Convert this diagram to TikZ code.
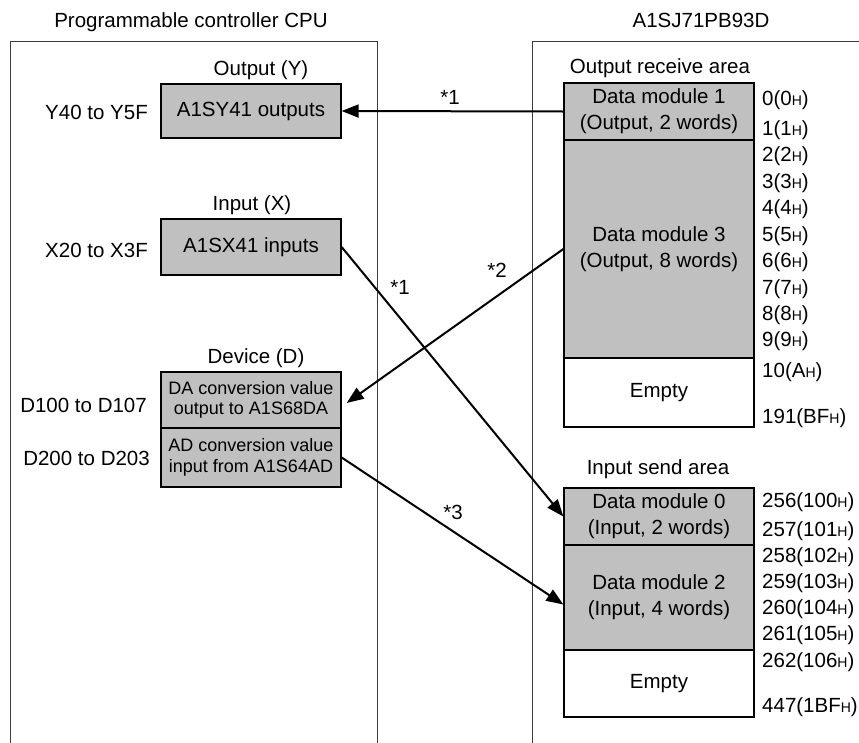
\documentclass[tikz,border=0pt]{standalone}
\usepackage{fontspec}
\setmainfont{Liberation Sans}
\usetikzlibrary{arrows.meta,calc}
\definecolor{boxgray}{RGB}{192,192,192}
\definecolor{framegray}{RGB}{60,60,60}
\newcommand\hsub{{\fontsize{14}{14}\selectfont H}}
\begin{document}
\begin{tikzpicture}[x=1pt,y=-1pt,
  lbl/.style={inner sep=0pt, font=\fontsize{20.5}{26}\selectfont},
  gbox/.style={draw=black, line width=1.3pt, fill=boxgray, inner sep=0pt, align=center,
    minimum width=180pt, font=\fontsize{20.5}{26}\selectfont},
  mbox/.style={gbox, minimum width=190pt},
  ebox/.style={mbox, fill=white},
  smalltext/.style={font=\fontsize{18}{20.5}\selectfont},
  frame/.style={draw=framegray, line width=1pt},
  arr/.style={line width=2pt, -{Triangle[length=17pt,width=13pt]}},
  addr/.style={lbl, anchor=west}]
\useasboundingbox (0,0) rectangle (859,742);
% frames
\draw[frame] (10,745) -- (10,41) -- (377,41) -- (377,745);
\draw[frame] (532,745) -- (532,41) -- (862,41);
% titles
\node[lbl] (tcpu) at (191,22) {Programmable controller CPU};
\node[lbl] (tmod) at (701,20) {A1SJ71PB93D};
% left side
\node[lbl] (louty) at (261,70) {Output (Y)};
\node[gbox, minimum height=54pt] (ysy) at (251,111) {A1SY41 outputs};
\node[lbl, anchor=east] (ry) at (148,112) {Y40 to Y5F};
\node[lbl] (linx) at (252,205) {Input (X)};
\node[gbox, minimum height=56pt] (ysx) at (251,247) {A1SX41 inputs};
\node[lbl, anchor=east] (rx) at (148,250) {X20 to X3F};
\node[lbl] (ldev) at (256,358) {Device (D)};
\node[gbox, smalltext, minimum height=56pt] (da) at (251,400) {DA conversion value\\output to A1S68DA};
\node[gbox, smalltext, minimum height=59pt] (ad) at (251,457.5) {AD conversion value\\input from A1S64AD};
\node[lbl, anchor=east] (rd1) at (147,405) {D100 to D107};
\node[lbl, anchor=east] (rd2) at (150,458) {D200 to D203};
% right side
\node[lbl] (lora) at (660,68) {Output receive area};
\node[mbox, minimum height=57pt] (dm1) at (659,111.5) {Data module 1\\(Output, 2 words)};
\node[mbox, minimum height=218pt] (dm3) at (659,249) {Data module 3\\(Output, 8 words)};
\node[ebox, minimum height=69pt] (emp1) at (659,392.5) {Empty};
\node[lbl] (lisa) at (658,469) {Input send area};
\node[mbox, minimum height=57pt] (dm0) at (659,516.5) {Data module 0\\(Input, 2 words)};
\node[mbox, minimum height=105pt] (dm2) at (659,597.5) {Data module 2\\(Input, 4 words)};
\node[ebox, minimum height=67pt] (emp2) at (659,683.5) {Empty};
% addresses
\node[addr] (a0) at (762,100) {0(0\hsub)};
\node[addr] (a1) at (762,130) {1(1\hsub)};
\node[addr] (a2) at (762,156) {2(2\hsub)};
\node[addr] (a3) at (762,183) {3(3\hsub)};
\node[addr] (a4) at (762,209) {4(4\hsub)};
\node[addr] (a5) at (762,236) {5(5\hsub)};
\node[addr] (a6) at (762,262) {6(6\hsub)};
\node[addr] (a7) at (762,289) {7(7\hsub)};
\node[addr] (a8) at (762,315) {8(8\hsub)};
\node[addr] (a9) at (762,341) {9(9\hsub)};
\node[addr] (a10) at (762,372) {10(A\hsub)};
\node[addr] (a191) at (762,418) {191(BF\hsub)};
\node[addr] (a256) at (762,502) {256(100\hsub)};
\node[addr] (a257) at (762,531) {257(101\hsub)};
\node[addr] (a258) at (762,557) {258(102\hsub)};
\node[addr] (a259) at (762,583) {259(103\hsub)};
\node[addr] (a260) at (762,609) {260(104\hsub)};
\node[addr] (a261) at (762,635) {261(105\hsub)};
\node[addr] (a262) at (762,662) {262(106\hsub)};
\node[addr] (a447) at (762,707) {447(1BF\hsub)};
% arrows
\draw[arr] (dm1.west) -- (ysy.east);
\draw[arr] (ysx.east) -- (dm0.west);
\draw[arr] (dm3.west) -- ($(da.east)+(5,3)$);
\draw[arr] (ad.east) -- ($(dm2.west)+(0,7)$);
% arrow labels
\node[lbl] (s1a) at (450,97) {*1};
\node[lbl] (s1b) at (400,287) {*1};
\node[lbl] (s2) at (497,270) {*2};
\node[lbl] (s3) at (453,512) {*3};
\end{tikzpicture}
\end{document}
